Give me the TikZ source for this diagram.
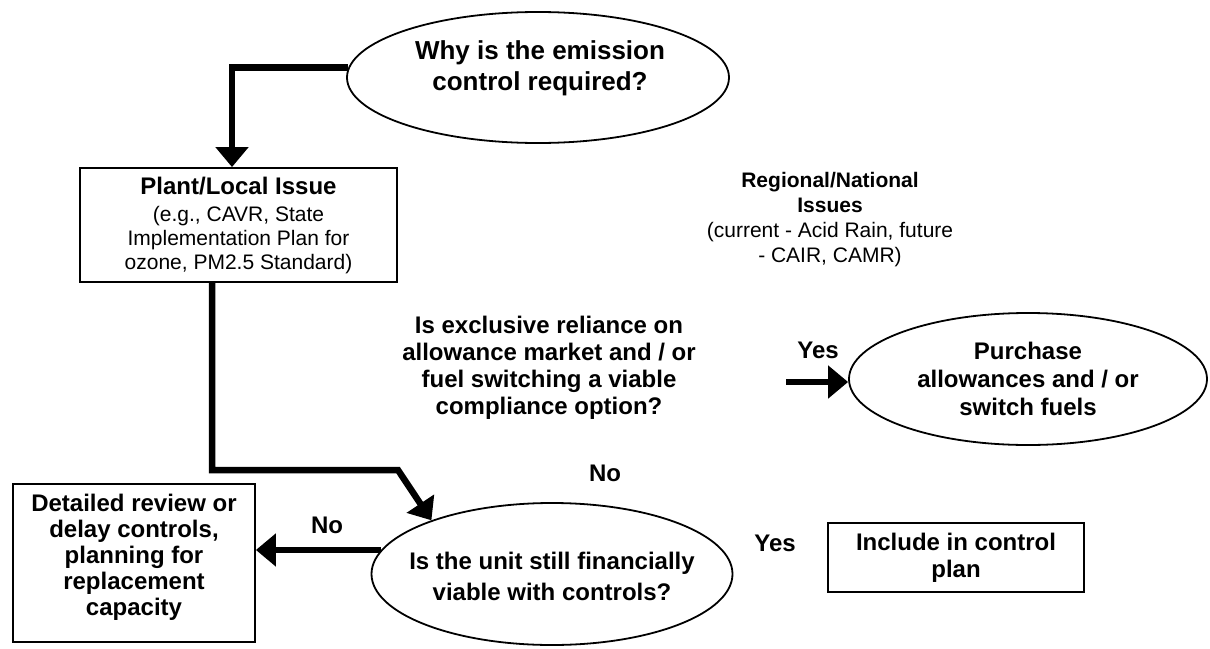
\documentclass[tikz,border=0pt]{standalone}
\usepackage{fontspec}
\setmainfont{Liberation Sans}
\usetikzlibrary{shapes.geometric,arrows.meta}

\begin{document}
\begin{tikzpicture}[x=1pt, y=-1pt,
	oval/.style = {draw, ellipse, line width=1.8pt, inner sep=0pt},
	box/.style = {draw, rectangle, line width=1.8pt, inner sep=0pt, align=center},
	txt/.style = {align=center, inner sep=0pt, font=\fontsize{24}{27}\selectfont\bfseries},
	note/.style = {align=center, inner sep=0pt, font=\fontsize{21}{24}\selectfont},
	flow/.style = {line width=6.5pt, -{Triangle[length=20pt,width=32pt]}}]
	\fill[white] (0,0) rectangle (1210,648);
	% ovals
	\node[oval, minimum width=382pt, minimum height=131pt] (why) at (538,77.5) {};
	\node[txt, font=\fontsize{26}{31}\selectfont\bfseries] (whytext) at (540,68) {Why is the emission\\control required?};
	\node[oval, minimum width=358pt, minimum height=132pt] (purchase) at (1028,379) {};
	\node[txt, font=\fontsize{24}{28}\selectfont\bfseries] (purchasetext) at (purchase) {Purchase\\allowances and / or\\switch fuels};
	\node[oval, minimum width=361pt, minimum height=142pt] (unit) at (552,574) {};
	\node[txt, font=\fontsize{24}{31}\selectfont\bfseries] (unittext) at (552,576) {Is the unit still financially\\viable with controls?};
	% boxes
	\node[box, note, minimum width=317pt, minimum height=114pt] (plant) at (238.5,225) {{\fontsize{24}{28}\selectfont\bfseries Plant/Local Issue}\\[3pt](e.g., CAVR, State\\Implementation Plan for\\ozone, PM2.5 Standard)};
	\node[box, minimum width=242pt, minimum height=158pt] (detail) at (134,563) {};
	\node[txt, font=\fontsize{24}{26}\selectfont\bfseries] (detailtext) at (134,557) {Detailed review or\\delay controls,\\planning for\\replacement\\capacity};
	\node[box, txt, minimum width=256pt, minimum height=69pt] (include) at (956,557.5) {Include in control\\plan};
	% free texts
	\node[note, font=\fontsize{21}{25}\selectfont] (regional) at (830,220) {\textbf{Regional/National}\\\textbf{Issues}\\(current - Acid Rain, future\\- CAIR, CAMR)};
	\node[txt] (question) at (549,368) {Is exclusive reliance on\\allowance market and / or\\fuel switching a viable\\compliance option?};
	\node[txt] (yesA) at (818,350) {Yes};
	\node[txt] (noA) at (605,473) {No};
	\node[txt] (noB) at (327,525) {No};
	\node[txt] (yesB) at (775,543) {Yes};
	% connectors
	\coordinate (bend) at (398,470);
	\coordinate (yesstart) at (786,382);
	\draw[flow] (why.177) -| ([xshift=-6.5pt]plant.north);
	\draw[flow] ([xshift=-26.5pt]plant.south) |- (bend) -- (unit.156);
	\draw[flow] (unit.172) -- (unit.172 -| detail.east);
	\draw[flow] (yesstart) -- (yesstart -| purchase.west);
\end{tikzpicture}
\end{document}
